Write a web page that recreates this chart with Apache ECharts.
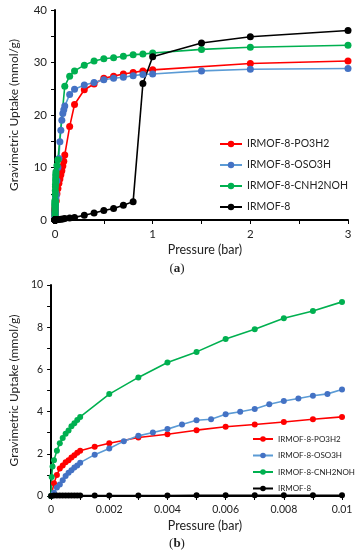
<!DOCTYPE html>
<html><head><meta charset="utf-8">
<script src="https://cdn.jsdelivr.net/npm/echarts@6/dist/echarts.min.js"></script>
<style>html,body{margin:0;padding:0;background:#fff}#c{width:361px;height:550px}</style>
</head><body><div id="c"></div>
<script>
// ---- data (pressure in bar, uptake in mmol/g) ----
var seriesNames = ['IRMOF-8-PO3H2', 'IRMOF-8-OSO3H', 'IRMOF-8-CNH2NOH', 'IRMOF-8'];

var poP = [0,0.0001,0.0002,0.0003,0.0004,0.0005,0.0006,0.0007,0.0008,0.0009,0.001,0.0015,0.002,0.003,0.004,0.005,0.006,0.007,0.008,0.009,0.01,0.02,0.03,0.04,0.05,0.06,0.07,0.08,0.09,0.1,0.15,0.2,0.3,0.4,0.5,0.6,0.7,0.8,0.9,1.0,2.0,3.0];
var poV = [0,0.6,1.0,1.3,1.45,1.6,1.7,1.82,1.93,2.05,2.14,2.33,2.5,2.77,2.93,3.12,3.28,3.39,3.51,3.64,3.75,5.0,6.0,7.0,7.8,8.6,9.4,10.3,11.2,12.4,17.8,22.0,24.8,25.9,27.0,27.4,27.8,28.1,28.4,28.6,29.8,30.3];

var osP = [0,0.0001,0.0002,0.0003,0.0004,0.0005,0.0006,0.0007,0.0008,0.0009,0.001,0.0015,0.002,0.0025,0.003,0.0035,0.004,0.0045,0.005,0.0055,0.006,0.0065,0.007,0.0075,0.008,0.0085,0.009,0.0095,0.01,0.02,0.03,0.04,0.05,0.06,0.07,0.08,0.09,0.1,0.15,0.2,0.3,0.4,0.5,0.6,0.7,0.8,0.9,1.0,1.5,2.0,3.0];
var osV = [0,0.15,0.4,0.55,0.75,0.95,1.1,1.22,1.35,1.45,1.58,1.96,2.25,2.6,2.85,3.01,3.17,3.39,3.59,3.64,3.88,3.99,4.12,4.35,4.5,4.62,4.75,4.84,5.05,7.5,10.0,11.7,14.9,17.1,19.0,20.3,21.0,21.7,23.9,24.9,25.7,26.2,26.7,27.0,27.2,27.5,27.7,27.8,28.4,28.7,28.85];

var cnP = [0,0.00002,0.00005,0.0001,0.0002,0.0003,0.0004,0.0005,0.0006,0.0007,0.0008,0.0009,0.001,0.002,0.003,0.004,0.005,0.006,0.007,0.008,0.009,0.01,0.02,0.03,0.1,0.15,0.2,0.3,0.4,0.5,0.6,0.7,0.8,0.9,1.0,1.5,2.0,3.0];
var cnV = [0,0.9,1.4,1.7,2.15,2.5,2.75,2.95,3.1,3.3,3.45,3.6,3.75,4.83,5.62,6.33,6.83,7.44,7.9,8.42,8.77,9.2,10.4,11.5,25.5,27.4,28.4,29.5,30.3,30.7,30.9,31.2,31.5,31.6,31.8,32.5,32.9,33.3];

var ir8P = [0,0.0001,0.0002,0.0003,0.0004,0.0005,0.0006,0.0007,0.0008,0.0009,0.001,0.0015,0.002,0.003,0.004,0.005,0.006,0.007,0.008,0.009,0.01,0.02,0.04,0.06,0.08,0.1,0.15,0.2,0.3,0.4,0.5,0.6,0.7,0.8,0.9,1.0,1.5,2.0,3.0];
var ir8V = [0,0.02,0.02,0.02,0.02,0.02,0.02,0.02,0.02,0.02,0.02,0.02,0.02,0.02,0.02,0.03,0.03,0.03,0.03,0.03,0.03,0.06,0.1,0.15,0.2,0.3,0.4,0.5,0.9,1.35,1.8,2.2,2.8,3.5,26.0,31.1,33.7,34.9,36.1];

var xTicksA = {min:0, max:3, interval:1};
var yTicksA = {min:0, max:40, interval:10};
var xTicksB = {min:0, max:0.01, interval:0.002};
var yTicksB = {min:0, max:10, interval:2};

// ---- build ----
function pairs(p, v){ return p.map(function(x,i){ return [x, v[i]]; }); }
var allData = [pairs(poP,poV), pairs(osP,osV), pairs(cnP,cnV), pairs(ir8P,ir8V)];
var symColors = ['#FF0000', '#4472C4', '#00B050', '#000000'];
var lineColors = ['#FF0000', '#5B9BD5', '#00B050', '#000000'];
var FONT = 'Lato, "Open Sans", sans-serif';
var SERIF = '"Liberation Serif", serif';

function mkAxis(t, gi, fs, name, gap){
  var a = {
    type:'value', gridIndex:gi, min:t.min, max:t.max, interval:t.interval,
    splitLine:{show:false},
    axisLine:{show:true, onZero:true, lineStyle:{color:'#000', width:2}},
    axisTick:{show:true, length:4, lineStyle:{color:'#000', width:1}},
    minorTick:{show:true, splitNumber:2, length:4, lineStyle:{color:'#000', width:1}},
    axisLabel:{color:'#222', fontSize:fs, fontFamily:FONT, margin:8}
  };
  if (name){
    a.name = name; a.nameLocation = 'middle'; a.nameGap = gap;
    a.nameTextStyle = {color:'#222', fontSize:12, fontFamily:FONT};
  }
  return a;
}

var series = [];
[0,1].forEach(function(g){
  allData.forEach(function(d, i){
    series.push({
      name: seriesNames[i], type:'line', xAxisIndex:g, yAxisIndex:g,
      data:d, symbol:'circle', symbolSize: g===0 ? 7 : 6, clip:true,
      itemStyle:{color:symColors[i]},
      lineStyle:{color:lineColors[i], width:1.6},
      emphasis:{disabled:true}, animation:false
    });
  });
});

function label(x, y, txt, fs, font){
  return {type:'text', x:x, y:y, style:{text:txt, fontSize:fs, fontFamily:font, fill:'#222', align:'center', verticalAlign:'middle'}};
}
function capLabel(x, y, letter){
  return {type:'text', x:x, y:y, style:{text:'({b|' + letter + '})', fontSize:13, fontFamily:SERIF, fill:'#222', align:'center', verticalAlign:'middle',
    rich:{b:{fontWeight:'bold', fontSize:13, fontFamily:SERIF, fill:'#222'}}}};
}

var chart = echarts.init(document.getElementById('c'), null, {renderer:'canvas'});
chart.setOption({
  backgroundColor:'#fff',
  animation:false,
  grid:[
    {left:48, top:10, width:300, height:210},
    {left:42, top:285, width:300, height:211}
  ],
  xAxis:[ mkAxis(xTicksA,0,11.5), mkAxis(xTicksB,1,10.5) ],
  yAxis:[ mkAxis(yTicksA,0,11.5,'Gravimetric Uptake (mmol/g)',35),
          mkAxis(yTicksB,1,10.5,'Gravimetric Uptake (mmol/g)',30) ],
  legend:[
    {data:seriesNames, orient:'vertical', left:214, top:132, itemWidth:22, itemHeight:8, itemGap:7,
     textStyle:{fontSize:10.5, lineHeight:14, fontFamily:FONT, color:'#222'}, selectedMode:false},
    {data:seriesNames, orient:'vertical', left:247, top:428, itemWidth:20, itemHeight:7, itemGap:4.5,
     textStyle:{fontSize:8, lineHeight:12, fontFamily:FONT, color:'#222'}, selectedMode:false}
  ],
  graphic:[
    label(205, 250, 'Pressure (bar)', 12.5, FONT),
    label(205, 526, 'Pressure (bar)', 12.5, FONT),
    capLabel(177, 269, 'a'),
    capLabel(177, 544, 'b')
  ],
  series: series
});
</script></body></html>
